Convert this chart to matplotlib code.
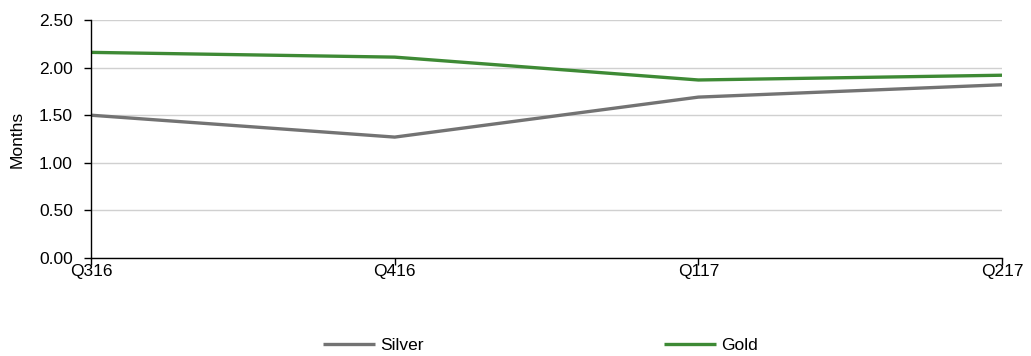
import matplotlib
matplotlib.use("Agg")
import matplotlib.pyplot as plt

# Quarterly data (months)
quarters = ["Q316", "Q416", "Q117", "Q217"]
silver = [1.50, 1.27, 1.69, 1.82]
gold = [2.16, 2.11, 1.87, 1.92]
yticks = [0.0, 0.5, 1.0, 1.5, 2.0, 2.5]

plt.rcParams["font.family"] = ["Liberation Sans", "DejaVu Sans"]
plt.rcParams["font.size"] = 12.5

fig = plt.figure(figsize=(10.31, 3.56), dpi=100)
ax = fig.add_axes([0.0883, 0.2753, 0.8836, 0.6685])

x = range(len(quarters))
l1, = ax.plot(x, silver, color="#737373", lw=2.4, label="Silver", solid_capstyle="butt")
l2, = ax.plot(x, gold, color="#3e8a35", lw=2.4, label="Gold", solid_capstyle="butt")

ax.set_xlim(0, len(quarters) - 1)
ax.set_ylim(0, 2.5)
ax.set_yticks(yticks)
ax.set_yticklabels([f"{v:.2f}" for v in yticks])
ax.set_xticks(list(x))
ax.set_xticklabels(quarters)
ax.set_ylabel("Months")
ax.yaxis.set_label_coords(-0.073, 0.5)

ax.grid(axis="y", color="#d0d0d0", lw=1)
ax.set_axisbelow(True)
for s in ["top", "right"]:
    ax.spines[s].set_visible(False)
for s in ["left", "bottom"]:
    ax.spines[s].set_color("#000000")
    ax.spines[s].set_linewidth(1)
ax.tick_params(axis="both", direction="out", length=5, width=1, color="#000000")
ax.tick_params(axis="x", pad=-1)
ax.tick_params(axis="y", pad=8)

fig.legend(handles=[l1, l2], loc="center", bbox_to_anchor=(0.524, 0.03),
           ncol=2, frameon=False, handlelength=3.0, handletextpad=0.3,
           columnspacing=13.85)

fig.savefig("out.png", dpi=100)
